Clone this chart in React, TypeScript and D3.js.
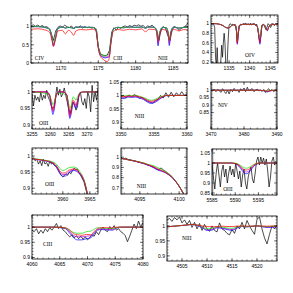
import * as d3 from 'd3'

type Pt = [number, number]

const COL = { black: '#000000', blue: '#0000ff', purple: '#b000e0', green: '#00e000', red: '#ff0000' }

// ---- panel 1: C IV / C III / N III, 1166-1187
const obs1: Pt[] = [[1166.0,1.02],[1166.3,1.05],[1166.6,1.01],[1166.9,1.04],[1167.2,1.0],[1167.5,1.03],[1167.8,0.99],[1168.1,1.0],[1168.4,0.95],[1168.7,0.82],[1169.0,0.62],[1169.3,0.88],[1169.6,0.98],[1169.9,1.02],[1170.2,0.98],[1170.5,1.04],[1170.8,1.0],[1171.1,0.97],[1171.4,1.02],[1171.7,0.95],[1172.0,1.0],[1172.3,0.97],[1172.6,1.02],[1172.9,0.96],[1173.2,1.0],[1173.5,0.97],[1173.8,0.99],[1174.1,0.96],[1174.4,0.98],[1174.7,0.9],[1175.0,0.45],[1175.3,0.25],[1175.6,0.22],[1175.9,0.2],[1176.2,0.22],[1176.5,0.35],[1176.8,0.85],[1177.1,0.97],[1177.4,0.9],[1177.7,0.98],[1178.0,0.95],[1178.3,1.0],[1178.6,1.02],[1178.9,0.99],[1179.2,1.03],[1179.5,1.0],[1179.8,1.04],[1180.1,1.02],[1180.4,1.05],[1180.7,1.01],[1181.0,1.03],[1181.3,0.97],[1181.6,1.02],[1181.9,1.0],[1182.2,1.04],[1182.5,0.98],[1182.8,0.9],[1183.1,0.62],[1183.4,0.9],[1183.7,1.0],[1184.0,0.95],[1184.3,0.75],[1184.6,0.62],[1184.9,0.92],[1185.2,1.0],[1185.5,0.96],[1185.8,0.9],[1186.1,0.95],[1186.4,0.98],[1186.7,1.02],[1187.0,1.1]]
const wave1 = [1166,1167,1168,1168.5,1168.8,1169,1169.2,1169.6,1170.2,1170.6,1171,1171.4,1171.7,1172,1172.6,1173.4,1174.2,1174.7,1175,1175.3,1175.6,1175.9,1176.2,1176.45,1176.7,1177,1177.6,1178.4,1179.2,1180,1180.8,1181.3,1181.8,1182.5,1182.8,1183,1183.2,1183.6,1184.1,1184.35,1184.5,1184.7,1185.1,1185.8,1186.4,1187]
const red1 = [0.93,0.94,0.90,0.84,0.62,0.45,0.58,0.88,0.90,0.80,0.90,0.85,0.76,0.88,0.92,0.91,0.93,0.88,0.40,0.18,0.11,0.06,0.04,0.12,0.55,0.86,0.92,0.90,0.93,0.91,0.94,0.86,0.93,0.92,0.86,0.60,0.78,0.92,0.90,0.80,0.62,0.82,0.93,0.88,0.92,0.91]
const green1 = [1.0,1.0,0.97,0.93,0.72,0.54,0.66,0.95,0.99,0.96,0.98,0.97,0.95,0.98,0.99,0.98,0.98,0.94,0.45,0.24,0.20,0.19,0.21,0.25,0.62,0.92,0.98,0.97,0.99,0.98,0.99,0.96,0.99,0.98,0.91,0.62,0.84,0.98,0.97,0.84,0.62,0.86,0.99,0.96,0.98,0.98]
const purple1 = [1.0,1.0,0.97,0.93,0.70,0.50,0.63,0.95,0.99,0.96,0.98,0.97,0.95,0.98,0.99,0.98,0.98,0.94,0.44,0.22,0.18,0.16,0.17,0.20,0.60,0.92,0.98,0.97,0.99,0.98,0.99,0.96,0.99,0.98,0.90,0.53,0.82,0.98,0.97,0.82,0.54,0.85,0.99,0.96,0.98,0.98]
const blue1 = [1.0,1.0,0.97,0.93,0.69,0.47,0.61,0.95,0.99,0.96,0.98,0.97,0.95,0.98,0.99,0.98,0.98,0.94,0.43,0.20,0.16,0.14,0.15,0.17,0.58,0.92,0.98,0.97,0.99,0.98,0.99,0.96,0.99,0.98,0.89,0.47,0.80,0.98,0.97,0.81,0.48,0.84,0.99,0.96,0.98,0.98]

// ---- panel 2: O IV, 1331-1347
const obs2: Pt[] = [[1330.6,1.0],[1330.9,0.98],[1331.2,1.0],[1331.5,0.92],[1331.7,0.3],[1331.9,0.1],[1332.1,0.5],[1332.3,0.1],[1332.6,0.1],[1332.9,0.1],[1333.2,0.55],[1333.4,0.3],[1333.6,0.6],[1333.8,0.8],[1334.0,0.6],[1334.2,0.15],[1334.5,0.1],[1334.8,0.7],[1335.0,0.97],[1335.3,1.0],[1335.6,0.97],[1335.9,0.99],[1336.2,0.96],[1336.5,0.98],[1336.8,0.85],[1337.0,0.62],[1337.2,0.75],[1337.5,0.95],[1337.8,0.99],[1338.1,0.97],[1338.4,1.0],[1338.7,0.98],[1339.0,1.01],[1339.3,0.97],[1339.6,1.0],[1339.9,0.98],[1340.2,1.01],[1340.5,0.97],[1340.8,0.99],[1341.1,1.0],[1341.4,0.96],[1341.7,0.99],[1342.0,0.9],[1342.3,0.7],[1342.5,0.62],[1342.7,0.75],[1343.0,0.95],[1343.3,0.98],[1343.6,0.96],[1343.9,0.88],[1344.2,0.92],[1344.5,1.0],[1344.8,0.97],[1345.1,0.92],[1345.4,0.97],[1345.7,1.0],[1346.0,0.96],[1346.3,0.99],[1346.6,0.97],[1346.9,1.0]]
const wave2 = [1330.6,1331.5,1332.5,1333.5,1334.2,1334.8,1335.4,1336,1336.5,1336.8,1337,1337.2,1337.5,1338,1339,1340,1341,1341.8,1342.2,1342.5,1342.7,1343,1343.3,1343.6,1344,1344.3,1344.6,1345,1345.5,1346,1346.9]
const red2 = [1.0,1.0,0.99,0.96,0.92,0.91,0.94,0.98,0.97,0.85,0.60,0.78,0.96,0.98,0.99,0.98,0.99,0.95,0.78,0.62,0.75,0.96,0.98,0.97,0.90,0.86,0.92,0.97,0.99,0.98,1.0]
const green2 = [1.0,1.0,0.99,0.96,0.92,0.91,0.94,0.98,0.97,0.86,0.63,0.80,0.96,0.98,0.99,0.98,0.99,0.95,0.80,0.69,0.80,0.96,0.99,0.97,0.90,0.87,0.92,0.97,0.99,0.98,1.0]
const purple2 = [1.0,1.0,0.99,0.96,0.92,0.91,0.94,0.98,0.97,0.84,0.59,0.77,0.96,0.98,0.99,0.98,0.99,0.95,0.77,0.60,0.73,0.96,0.98,0.97,0.90,0.86,0.92,0.97,0.99,0.98,1.0]
const blue2 = [1.0,1.0,0.99,0.96,0.92,0.91,0.94,0.98,0.97,0.83,0.57,0.76,0.96,0.98,0.99,0.98,0.99,0.95,0.76,0.57,0.71,0.96,0.98,0.97,0.90,0.85,0.92,0.97,0.99,0.98,1.0]

// ---- panel 3: O III, 3255-3273
const obs3: Pt[] = [[3255.0,0.995],[3255.4,0.958],[3255.8,0.99],[3256.2,0.975],[3256.6,0.985],[3257.0,0.97],[3257.4,1.0],[3257.8,0.975],[3258.2,0.99],[3258.6,0.98],[3259.0,1.005],[3259.4,0.985],[3259.8,0.975],[3260.2,0.96],[3260.6,0.95],[3261.0,0.955],[3261.4,0.985],[3261.8,1.015],[3262.2,0.99],[3262.6,1.008],[3263.0,0.985],[3263.4,0.995],[3263.8,1.012],[3264.2,0.99],[3264.6,0.97],[3265.0,0.95],[3265.4,0.935],[3265.8,0.955],[3266.2,0.97],[3266.6,0.96],[3267.0,0.945],[3267.4,0.955],[3267.8,0.99],[3268.2,1.0],[3268.6,0.97],[3269.0,0.96],[3269.4,0.98],[3269.8,0.95],[3270.2,1.0],[3270.6,0.985],[3271.0,0.94],[3271.4,1.02],[3271.8,0.97],[3272.2,1.0],[3272.6,0.975],[3273.0,1.01]]
const wave3 = [3255,3259,3259.8,3260.3,3260.7,3261.1,3261.6,3262.3,3263.5,3264.5,3265,3265.3,3265.7,3266.2,3266.6,3267.0,3267.4,3268,3269,3273]
const red3 = [1,1,0.99,0.965,0.945,0.96,0.99,1,1,0.99,0.955,0.93,0.945,0.975,0.97,0.96,0.975,0.995,1,1]
const green3 = [1,0.995,0.99,0.975,0.962,0.97,0.99,0.998,0.995,0.985,0.965,0.95,0.96,0.985,0.982,0.975,0.985,0.995,1,1]
const purple3 = [1,1,0.99,0.96,0.94,0.955,0.99,1,1,0.99,0.95,0.925,0.94,0.97,0.965,0.955,0.97,0.995,1,1]
const blue3 = [1,1,0.99,0.955,0.932,0.95,0.99,1,1,0.99,0.945,0.92,0.935,0.965,0.96,0.95,0.968,0.995,1,1]

// ---- panel 4: N III, 3350-3360
const obs4: Pt[] = [[3350.0,0.995],[3350.4,1.0],[3350.8,0.99],[3351.2,1.002],[3351.6,0.995],[3352.0,1.003],[3352.4,0.998],[3352.8,0.99],[3353.2,0.993],[3353.6,0.985],[3354.0,0.98],[3354.4,0.975],[3354.8,0.972],[3355.2,0.98],[3355.6,0.985],[3356.0,1.0],[3356.4,0.99],[3356.8,1.01],[3357.2,0.993],[3357.6,1.012],[3358.0,0.995],[3358.4,1.01],[3358.8,0.998],[3359.2,1.014],[3359.6,1.0],[3360.0,1.006]]
const wave4 = [3350,3350.5,3351,3351.6,3352.2,3352.8,3353.4,3354,3354.6,3355.2,3355.8,3356.4,3357,3358,3360]
const red4 = [0.997,0.995,0.998,0.997,0.998,0.995,0.99,0.982,0.978,0.982,0.99,0.997,1,1,1]
const green4 = [1.0,0.998,1.0,0.999,1.0,0.997,0.992,0.986,0.982,0.986,0.993,0.998,1,1,1]
const purple4 = [0.994,0.992,0.996,0.995,0.996,0.992,0.987,0.978,0.974,0.978,0.987,0.996,1,1,1]
const blue4 = [0.99,0.988,0.994,0.993,0.994,0.99,0.985,0.975,0.97,0.975,0.985,0.995,1,1,1]

// ---- panel 5: N IV, 3470-3490
const obs5: Pt[] = [[3470.0,1.0],[3470.5,0.995],[3471.0,1.008],[3471.5,0.99],[3472.0,1.005],[3472.5,0.998],[3473.0,0.985],[3473.5,1.01],[3474.0,0.992],[3474.5,0.978],[3475.0,1.0],[3475.5,0.975],[3476.0,1.005],[3476.5,0.99],[3477.0,1.012],[3477.5,0.995],[3478.0,1.0],[3478.5,0.985],[3479.0,1.01],[3479.5,0.998],[3480.0,1.015],[3480.5,0.99],[3481.0,1.02],[3481.5,0.995],[3482.0,1.005],[3482.5,1.01],[3483.0,0.99],[3483.5,1.0],[3484.0,1.008],[3484.5,0.995],[3485.0,1.0],[3485.5,0.992],[3486.0,1.005],[3486.5,0.985],[3487.0,1.0],[3487.5,1.01],[3488.0,0.995],[3488.5,1.005],[3489.0,0.99],[3489.5,1.0],[3490.0,1.003]]
const wave5 = [3470,3475,3480,3484,3486,3487,3488,3490]
const red5 = [1,1,1,1,0.998,0.993,0.998,1]
const green5 = [1,1,1,1,0.998,0.995,0.998,1]
const purple5 = [1,1,1,1,0.997,0.99,0.997,1]
const blue5 = [1,1,1,1,0.996,0.988,0.996,1]

// ---- panel 6: O III, 3954-3966
const obs6: Pt[] = [[3954.3,0.99],[3954.6,0.995],[3954.9,0.985],[3955.2,0.99],[3955.5,0.975],[3955.8,0.985],[3956.1,0.97],[3956.4,0.99],[3956.7,0.975],[3957.0,0.98],[3957.3,0.968],[3957.6,0.985],[3957.9,0.975],[3958.2,0.98],[3958.5,0.97],[3958.8,0.968],[3959.1,0.96],[3959.4,0.95],[3959.7,0.94],[3960.0,0.935],[3960.3,0.94],[3960.6,0.945],[3960.9,0.94],[3961.2,0.95],[3961.5,0.945],[3961.8,0.955],[3962.1,0.962],[3962.4,0.958],[3962.7,0.96],[3963.0,0.948],[3963.3,0.94],[3963.6,0.93],[3963.9,0.92],[3964.2,0.9],[3964.5,0.882]]
const wave6 = [3954.3,3955,3956,3957,3958,3958.8,3959.4,3960,3960.5,3961,3961.5,3962,3962.5,3963,3963.5,3964,3964.5,3965,3965.5,3966]
const red6 = [0.992,0.99,0.988,0.985,0.98,0.97,0.955,0.947,0.948,0.955,0.958,0.96,0.958,0.95,0.94,0.92,0.885,0.84,0.79,0.74]
const green6 = [0.993,0.991,0.989,0.986,0.982,0.975,0.962,0.955,0.958,0.963,0.965,0.966,0.963,0.955,0.942,0.921,0.886,0.84,0.79,0.74]
const purple6 = [0.992,0.99,0.988,0.985,0.98,0.968,0.95,0.942,0.943,0.95,0.955,0.957,0.955,0.948,0.938,0.919,0.885,0.84,0.79,0.74]
const blue6 = [0.992,0.99,0.987,0.984,0.978,0.965,0.947,0.937,0.938,0.946,0.952,0.955,0.953,0.946,0.936,0.918,0.884,0.84,0.79,0.74]

// ---- panel 7: N III, 4093-4101
const obs7: Pt[] = [[4092.6,0.995],[4092.9,0.985],[4093.2,0.99],[4093.5,0.978],[4093.8,0.975],[4094.1,0.968],[4094.4,0.965],[4094.7,0.955],[4095.0,0.952],[4095.3,0.945],[4095.6,0.94],[4095.9,0.925],[4096.2,0.92],[4096.5,0.91],[4096.8,0.9],[4097.1,0.885],[4097.4,0.878],[4097.7,0.895],[4098.0,0.875],[4098.3,0.86],[4098.6,0.84],[4098.9,0.825],[4099.2,0.8],[4099.5,0.77],[4099.8,0.74],[4100.1,0.705],[4100.4,0.665],[4100.7,0.625]]
const wave7 = [4092.6,4093.5,4094.5,4095.5,4096.3,4096.8,4097.3,4097.8,4098.3,4099,4099.6,4100.2,4100.7,4101]
const red7 = [0.99,0.975,0.96,0.94,0.92,0.905,0.885,0.87,0.85,0.81,0.76,0.69,0.62,0.57]
const green7 = [0.99,0.975,0.961,0.942,0.925,0.915,0.897,0.88,0.856,0.813,0.762,0.69,0.62,0.57]
const purple7 = [0.99,0.975,0.959,0.938,0.917,0.9,0.878,0.865,0.847,0.808,0.759,0.69,0.62,0.57]
const blue7 = [0.99,0.975,0.958,0.936,0.914,0.895,0.873,0.862,0.845,0.807,0.758,0.69,0.62,0.57]

// ---- panel 8: O III, 5585-5599
const obs8: Pt[] = [[5585.0,1.0],[5585.3,0.93],[5585.6,0.87],[5585.9,0.95],[5586.2,1.0],[5586.5,0.94],[5586.8,0.88],[5587.1,0.96],[5587.4,0.99],[5587.7,0.93],[5588.0,0.97],[5588.3,0.9],[5588.6,0.95],[5588.9,0.985],[5589.2,0.94],[5589.5,0.97],[5589.8,0.93],[5590.1,1.0],[5590.4,0.96],[5590.7,0.92],[5591.0,0.96],[5591.3,0.88],[5591.6,0.94],[5591.9,0.97],[5592.2,0.9],[5592.5,0.87],[5592.8,0.93],[5593.1,0.96],[5593.4,0.98],[5593.7,0.92],[5594.0,0.9],[5594.3,0.95],[5594.6,1.01],[5594.9,1.03],[5595.2,0.99],[5595.5,1.03],[5595.8,1.0],[5596.1,1.025],[5596.4,0.99],[5596.7,1.02],[5597.0,0.96],[5597.3,0.88],[5597.6,0.93],[5597.9,1.01],[5598.2,1.03],[5598.5,0.99],[5598.8,1.01]]
const wave8 = [5585,5589,5590,5590.8,5591.5,5592,5592.4,5592.8,5593.3,5594,5594.8,5595.5,5599]
const red8 = [1,1,0.998,0.99,0.975,0.967,0.965,0.967,0.975,0.99,0.998,1,1]
const green8 = [1,1,0.999,0.993,0.982,0.976,0.974,0.976,0.982,0.993,0.999,1,1]
const purple8 = [1,1,0.997,0.987,0.968,0.958,0.955,0.958,0.968,0.987,0.997,1,1]
const blue8 = [1,1,0.996,0.984,0.962,0.95,0.946,0.95,0.962,0.984,0.996,1,1]

// ---- panel 9: C III, 4060-4080
const obs9: Pt[] = [[4060.0,0.99],[4060.4,0.985],[4060.8,0.995],[4061.2,0.978],[4061.6,0.99],[4062.0,0.98],[4062.4,0.995],[4062.8,0.985],[4063.2,0.998],[4063.6,0.99],[4064.0,1.0],[4064.4,1.012],[4064.8,0.995],[4065.2,1.005],[4065.6,0.99],[4066.0,0.985],[4066.4,0.975],[4066.8,0.968],[4067.2,0.975],[4067.6,0.965],[4068.0,0.972],[4068.4,0.962],[4068.8,0.97],[4069.2,0.96],[4069.6,0.968],[4070.0,0.958],[4070.4,0.965],[4070.8,0.975],[4071.2,0.97],[4071.6,0.985],[4072.0,0.975],[4072.4,0.99],[4072.8,1.0],[4073.2,0.99],[4073.6,0.985],[4074.0,1.002],[4074.4,0.995],[4074.8,1.005],[4075.2,0.99],[4075.6,0.995],[4076.0,0.985],[4076.4,0.98],[4076.8,0.972],[4077.2,0.952],[4077.6,0.97],[4078.0,0.99],[4078.4,1.01],[4078.8,0.995],[4079.2,1.02],[4079.6,1.0],[4080.0,1.015]]
const wave9 = [4060,4064,4066,4066.8,4067.5,4068.2,4069,4069.8,4070.6,4071.2,4071.8,4072.5,4073.5,4074.5,4075.2,4076,4080]
const red9 = [1,1,0.998,0.99,0.978,0.975,0.973,0.976,0.975,0.985,0.995,0.998,0.998,0.997,1,1,1]
const green9 = [1,1,0.997,0.99,0.982,0.98,0.98,0.985,0.987,0.993,0.998,0.997,0.996,0.995,0.998,1,1]
const purple9 = [1,1,0.996,0.985,0.972,0.968,0.968,0.97,0.972,0.982,0.992,0.994,0.993,0.992,0.997,1,1]
const blue9 = [1,1,0.995,0.98,0.965,0.958,0.958,0.962,0.965,0.978,0.99,0.992,0.991,0.99,0.997,1,1]

// ---- panel 10: N III, 4502-4524
const obs10: Pt[] = [[4502.0,1.02],[4502.5,1.025],[4503.0,1.015],[4503.5,1.028],[4504.0,1.02],[4504.5,1.03],[4505.0,1.01],[4505.5,1.02],[4506.0,1.005],[4506.5,1.018],[4507.0,0.995],[4507.5,1.012],[4508.0,0.99],[4508.5,1.008],[4509.0,0.985],[4509.5,1.005],[4510.0,0.99],[4510.5,0.982],[4511.0,1.0],[4511.5,0.985],[4512.0,0.98],[4512.5,1.01],[4513.0,0.99],[4513.5,0.985],[4514.0,0.975],[4514.5,0.97],[4515.0,0.988],[4515.5,0.975],[4516.0,1.0],[4516.5,0.99],[4517.0,1.012],[4517.5,0.99],[4518.0,1.018],[4518.5,1.0],[4519.0,0.985],[4519.5,0.972],[4520.0,1.022],[4520.5,1.03],[4521.0,0.99],[4521.5,0.96],[4522.0,0.94],[4522.5,0.972],[4523.0,1.0],[4523.5,0.99],[4524.0,1.002]]
const wave10 = [4502,4504,4506,4507,4508,4509,4510,4511,4512,4513,4514,4515,4516,4517,4518,4520,4522,4524]
const red10 = [0.997,1.0,1.003,1.005,1.003,1.0,0.998,0.997,0.998,0.999,0.998,0.998,0.999,1.0,0.999,1.0,0.999,1.0]
const green10 = [0.997,1.0,1.003,1.005,1.003,0.998,0.99,0.992,0.997,0.996,0.993,0.992,0.996,0.999,0.998,1.0,0.998,1.0]
const purple10 = [0.997,1.0,1.003,1.005,1.002,0.996,0.987,0.988,0.995,0.993,0.99,0.988,0.994,0.999,0.997,1.0,0.996,0.998]
const blue10 = [0.997,1.0,1.003,1.005,1.001,0.995,0.985,0.986,0.994,0.992,0.988,0.985,0.993,0.998,0.997,1.0,0.995,0.997]

interface Spec {
  box: [number, number, number, number] // left, top, right, bottom (px)
  xd: [number, number]; yd: [number, number]
  xt: number[]; xm: number; yt: number[]; ym: number
  obs: Pt[]; wave: number[]; red: number[]; green: number[]; purple: number[]; blue: number[]
  ids: { text: string; w: number; f: number }[]
}

const PANELS: Spec[] = [
  { box: [31, 15, 188, 63], xd: [1166, 1187], yd: [0, 1.32], xt: [1170, 1175, 1180, 1185], xm: 1, yt: [0, 0.5, 1], ym: 0.1,
    obs: obs1, wave: wave1, red: red1, green: green1, purple: purple1, blue: blue1,
    ids: [{ text: 'CIV', w: 1166.5, f: 0.08 }, { text: 'CIII', w: 1177.0, f: 0.08 }, { text: 'NIII', w: 1183.0, f: 0.08 }] },
  { box: [211, 15, 278, 63], xd: [1330.6, 1346.9], yd: [0.18, 1.18], xt: [1335, 1340, 1345], xm: 1, yt: [0.2, 0.4, 0.6, 0.8, 1], ym: 0.05,
    obs: obs2, wave: wave2, red: red2, green: green2, purple: purple2, blue: blue2, ids: [{ text: 'OIV', w: 1338.9, f: 0.3 }] },
  { box: [32, 82, 98, 129], xd: [3255, 3273], yd: [0.888, 1.03], xt: [3255, 3260, 3265, 3270], xm: 1, yt: [0.9, 0.95, 1], ym: 0.01,
    obs: obs3, wave: wave3, red: red3, green: green3, purple: purple3, blue: blue3, ids: [{ text: 'OIII', w: 3256.9, f: 0.9 }] },
  { box: [121, 82, 187, 129], xd: [3350, 3360], yd: [0.875, 1.05], xt: [3350, 3355, 3360], xm: 1, yt: [0.9, 0.95, 1, 1.05], ym: 0.01,
    obs: obs4, wave: wave4, red: red4, green: green4, purple: purple4, blue: blue4, ids: [{ text: 'NIII', w: 3352.1, f: 0.916 }] },
  { box: [211, 82, 277, 129], xd: [3470, 3490], yd: [0.74, 1.055], xt: [3470, 3480, 3490], xm: 2, yt: [0.85, 0.9, 0.95, 1], ym: 0.01,
    obs: obs5, wave: wave5, red: red5, green: green5, purple: purple5, blue: blue5, ids: [{ text: 'NIV', w: 3472.1, f: 0.887 }] },
  { box: [32, 148, 98, 194], xd: [3954.3, 3966.5], yd: [0.882, 1.025], xt: [3960, 3965], xm: 1, yt: [0.9, 0.95, 1], ym: 0.01,
    obs: obs6, wave: wave6, red: red6, green: green6, purple: purple6, blue: blue6, ids: [{ text: 'OIII', w: 3956.7, f: 0.907 }] },
  { box: [121, 148, 187, 194], xd: [4092.6, 4101], yd: [0.64, 1.09], xt: [4095, 4100], xm: 1, yt: [0.7, 0.8, 0.9, 1], ym: 0.02,
    obs: obs7, wave: wave7, red: red7, green: green7, purple: purple7, blue: blue7, ids: [{ text: 'NIII', w: 4094.6, f: 0.7 }] },
  { box: [212, 149, 277, 195], xd: [5585, 5599], yd: [0.84, 1.07], xt: [5585, 5590, 5595], xm: 1, yt: [0.85, 0.9, 0.95, 1, 1.05], ym: 0.01,
    obs: obs8, wave: wave8, red: red8, green: green8, purple: purple8, blue: blue8, ids: [{ text: 'OIII', w: 5587.4, f: 0.86 }] },
  { box: [32, 215, 143, 259], xd: [4060, 4080], yd: [0.895, 1.04], xt: [4060, 4065, 4070, 4075, 4080], xm: 1, yt: [0.9, 0.95, 1], ym: 0.01,
    obs: obs9, wave: wave9, red: red9, green: green9, purple: purple9, blue: blue9, ids: [{ text: 'CIII', w: 4062, f: 0.938 }] },
  { box: [167, 216, 277, 261], xd: [4502, 4524], yd: [0.883, 1.033], xt: [4505, 4510, 4515, 4520], xm: 1, yt: [0.9, 0.95, 1], ym: 0.01,
    obs: obs10, wave: wave10, red: red10, green: green10, purple: purple10, blue: blue10, ids: [{ text: 'NIII', w: 4505, f: 0.953 }] },
]

const minors = (d: [number, number], step: number) => {
  const first = Math.ceil(d[0] / step - 1e-6)
  const last = Math.floor(d[1] / step + 1e-6)
  return d3.range(first, last + 1).map((i) => i * step)
}

const fmtY = d3.format('~g')

function Panel({ p, id }: { p: Spec; id: string }) {
  const [l, t, r, b] = p.box
  const x = d3.scaleLinear().domain(p.xd).range([l, r])
  const y = d3.scaleLinear().domain(p.yd).range([b, t])
  const line = d3.line<Pt>().x((d) => x(d[0])).y((d) => y(d[1]))
  const smooth = d3.line<Pt>().x((d) => x(d[0])).y((d) => y(d[1])).curve(d3.curveMonotoneX)
  const model = (vals: number[]) => smooth(p.wave.map((w, i) => [w, vals[i]] as Pt)) ?? ''
  const mx = minors(p.xd, p.xm)
  const my = minors(p.yd, p.ym)
  const MJ = 3, MN = 1.5
  return (
    <g>
      <defs>
        <clipPath id={id}><rect x={l} y={t} width={r - l} height={b - t} /></clipPath>
      </defs>
      {/* observed spectrum underneath, the four model fits over it */}
      <g clipPath={`url(#${id})`} fill="none" strokeWidth={0.7} strokeLinejoin="round">
        <path d={line(p.obs) ?? ''} stroke={COL.black} />
        <path d={model(p.blue)} stroke={COL.blue} />
        <path d={model(p.purple)} stroke={COL.purple} />
        <path d={model(p.green)} stroke={COL.green} />
        <path d={model(p.red)} stroke={COL.red} />
      </g>
      <g stroke="#000" strokeWidth={0.5}>
        {mx.map((v) => (
          <g key={'mx' + v}>
            <line x1={x(v)} x2={x(v)} y1={b} y2={b - MN} />
            <line x1={x(v)} x2={x(v)} y1={t} y2={t + MN} />
          </g>
        ))}
        {my.map((v) => (
          <g key={'my' + v}>
            <line x1={l} x2={l + MN} y1={y(v)} y2={y(v)} />
            <line x1={r} x2={r - MN} y1={y(v)} y2={y(v)} />
          </g>
        ))}
        {p.xt.map((v) => (
          <g key={'x' + v}>
            <line x1={x(v)} x2={x(v)} y1={b} y2={b - MJ} />
            <line x1={x(v)} x2={x(v)} y1={t} y2={t + MJ} />
          </g>
        ))}
        {p.yt.map((v) => (
          <g key={'y' + v}>
            <line x1={l} x2={l + MJ} y1={y(v)} y2={y(v)} />
            <line x1={r} x2={r - MJ} y1={y(v)} y2={y(v)} />
          </g>
        ))}
      </g>
      <rect x={l} y={t} width={r - l} height={b - t} fill="none" stroke="#000" strokeWidth={0.8} />
      <g fontFamily="'Liberation Sans', Arial, sans-serif" fontSize={5} fill="#000">
        {p.xt.map((v) => (
          <text key={'xl' + v} x={x(v)} y={b + 6.5} textAnchor="middle">{v}</text>
        ))}
        {p.yt.map((v) => (
          <text key={'yl' + v} x={l - 2} y={y(v)} dy="0.35em" textAnchor="end">{fmtY(v)}</text>
        ))}
      </g>
      <g fontFamily="'Liberation Serif', 'Times New Roman', serif" fontSize={5.5} fill="#000">
        {p.ids.map((s) => (
          <text key={s.text + s.w} x={x(s.w)} y={y(s.f)}>{s.text}</text>
        ))}
      </g>
    </g>
  )
}

export default function App() {
  return (
    <div style={{ position: 'absolute', left: 0, top: 0, width: 293, height: 293, background: '#fff' }}>
      <svg width={293} height={293} viewBox="0 0 293 293" style={{ display: 'block' }}>
        <rect width={293} height={293} fill="#fff" />
        {PANELS.map((p, i) => <Panel key={i} p={p} id={'p' + i} />)}
      </svg>
    </div>
  )
}
